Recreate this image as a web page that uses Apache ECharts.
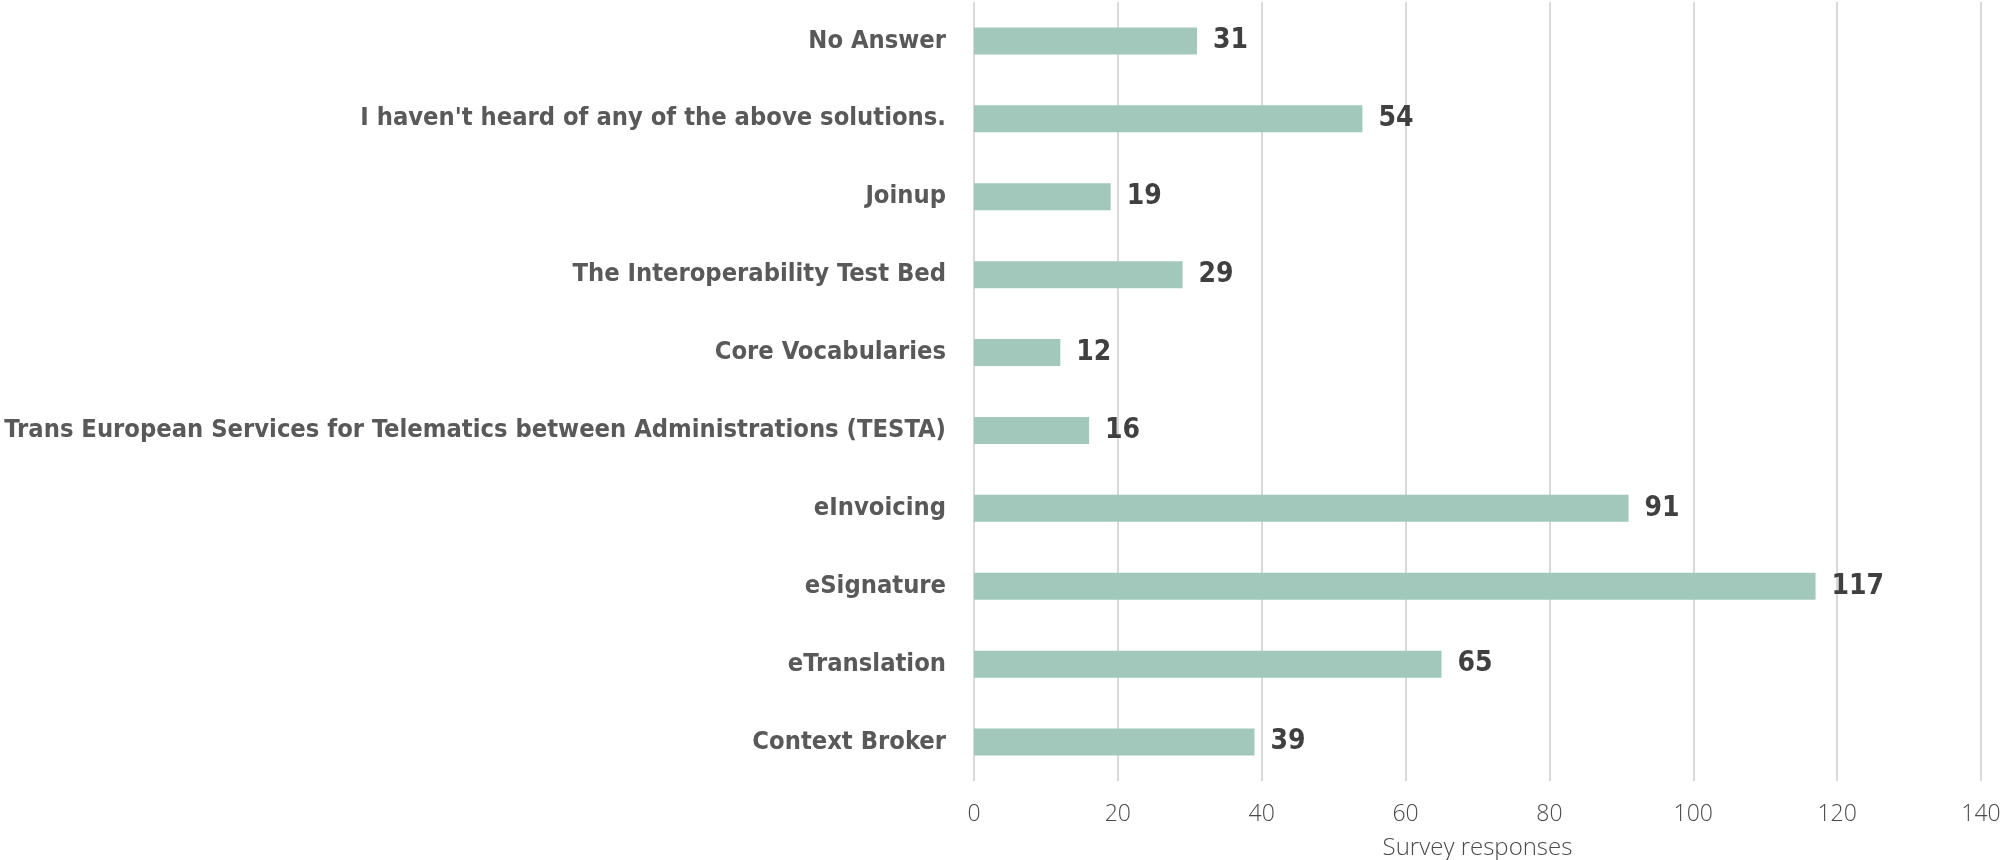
<!DOCTYPE html>
<html>
<head>
<meta charset="utf-8">
<script src="https://cdn.jsdelivr.net/npm/echarts@6/dist/echarts.min.js"></script>
<style>html,body{margin:0;padding:0;background:#fff}#c{width:2002px;height:860px}</style>
</head>
<body>
<div id="c"></div>
<script>
const categories = [
  "No Answer",
  "I haven't heard of any of the above solutions.",
  "Joinup",
  "The Interoperability Test Bed",
  "Core Vocabularies",
  "Trans European Services for Telematics between Administrations (TESTA)",
  "eInvoicing",
  "eSignature",
  "eTranslation",
  "Context Broker"
];
const responses = [31, 54, 19, 29, 12, 16, 91, 117, 65, 39];
const xTicks = { min: 0, max: 140, interval: 20 };
const axisTitle = "Survey responses";

const chart = echarts.init(document.getElementById('c'));
const condensed = "'DejaVu Sans Condensed', 'DejaVu Sans', sans-serif";
const light = "'Open Sans', sans-serif";
chart.setOption({
  animation: false,
  grid: { left: 974, right: 21, top: 2, bottom: 79, containLabel: false, outerBoundsMode: 'none' },
  xAxis: {
    type: 'value', min: xTicks.min, max: xTicks.max, interval: xTicks.interval,
    name: axisTitle, nameLocation: 'middle', nameGap: 55,
    nameTextStyle: { color: '#4a4a4a', fontSize: 24, fontFamily: light, fontWeight: 300 },
    axisLine: { show: false }, axisTick: { show: false },
    axisLabel: { color: '#4a4a4a', fontSize: 23, margin: 22, fontFamily: light, fontWeight: 300 },
    splitLine: { show: true, lineStyle: { color: '#d9d9d9', width: 2 } }
  },
  yAxis: {
    type: 'category', data: categories, inverse: true,
    axisLine: { show: false }, axisTick: { show: false },
    axisLabel: { color: '#595959', fontSize: 25.3, fontWeight: 'bold', margin: 28, fontFamily: condensed }
  },
  series: [{
    type: 'bar', data: responses, barWidth: 27,
    itemStyle: { color: '#a1c8ba' },
    label: { show: true, position: 'right', distance: 16, color: '#404040', fontSize: 28, fontWeight: 'bold', fontFamily: condensed }
  }]
});
</script>
</body>
</html>
